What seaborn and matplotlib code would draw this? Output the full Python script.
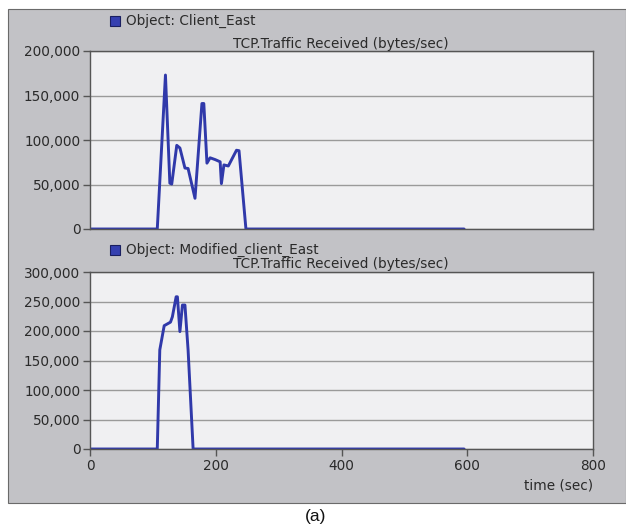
import matplotlib
matplotlib.use("Agg")
import matplotlib.pyplot as plt
from matplotlib.patches import Rectangle
import matplotlib.ticker as mticker
import seaborn as sns
import pandas as pd

# ── data ──────────────────────────────────────────────────────
t_east = [0, 107, 120, 127, 130, 138, 143, 151, 156, 167, 178, 181, 186,
          191, 199, 207, 209, 213, 220, 233, 237, 248, 595]
v_east = [0, 0, 173000, 51500, 50500, 94000, 91000, 68500, 68000, 34500,
          141000, 141000, 74000, 80000, 78000, 75500, 51000, 72000, 70800,
          88500, 88000, 0, 0]

t_mod = [0, 107, 111, 118, 128, 131, 137, 139, 143, 147, 151, 156, 164, 595]
v_mod = [0, 0, 168000, 209000, 215000, 224000, 258000, 258000, 199000,
         244000, 244000, 168000, 0, 0]

x_ticks = [0, 200, 400, 600, 800]
y_ticks_top = [0, 50000, 100000, 150000, 200000]
y_ticks_bot = [0, 50000, 100000, 150000, 200000, 250000, 300000]

obj_names = ["Object: Client_East", "Object: Modified_client_East"]
stat_title = "TCP.Traffic Received (bytes/sec)"

sns.set_theme(style="white")
plt.rcParams['font.family'] = ['DejaVu Sans']

line_col = '#3039aa'
panel_col = '#c2c2c6'
plot_bg = '#f0f0f2'
txt_col = '#2a2a2a'
fs = 9.8

W, H = 626, 529
fig = plt.figure(figsize=(W / 100, H / 100), dpi=100)
fig.patch.set_facecolor('white')

# gray panel behind both plots
fig.patches.append(Rectangle((8 / W, 1 - 503 / H), 618 / W, 494 / H,
                             transform=fig.transFigure, facecolor=panel_col,
                             edgecolor='#6a6a6a', linewidth=0.8, zorder=-10))

ax_top = fig.add_axes([90 / W, 1 - 229 / H, 503 / W, 178 / H])
ax_bot = fig.add_axes([90 / W, 1 - 449 / H, 503 / W, 177 / H])

df_east = pd.DataFrame({'time': t_east, 'value': v_east})
df_mod = pd.DataFrame({'time': t_mod, 'value': v_mod})

for ax, df, yt in [(ax_top, df_east, y_ticks_top), (ax_bot, df_mod, y_ticks_bot)]:
    ax.set_facecolor(plot_bg)
    sns.lineplot(data=df, x='time', y='value', ax=ax, color=line_col,
                 linewidth=2.1, sort=False, estimator=None)
    ax.set_xlim(0, 800)
    ax.set_ylim(yt[0], yt[-1])
    ax.set_yticks(yt)
    ax.yaxis.set_major_formatter(mticker.FuncFormatter(lambda v, p: f'{int(v):,}'))
    ax.grid(axis='y', color='#9a9a9a', linewidth=1.0)
    ax.grid(axis='x', visible=False)
    ax.set_axisbelow(True)
    ax.set_xlabel('')
    ax.set_ylabel('')
    for s in ax.spines.values():
        s.set_color('#555555')
        s.set_linewidth(1.0)
    ax.tick_params(axis='y', left=True, length=5, width=1, color='#555555',
                   labelsize=fs, labelcolor=txt_col, pad=2)

ax_top.set_xticks(x_ticks)
ax_top.tick_params(axis='x', bottom=False, labelbottom=False)
ax_bot.set_xticks(x_ticks)
ax_bot.tick_params(axis='x', bottom=True, length=5, width=1, color='#555555',
                   labelsize=fs, labelcolor=txt_col, pad=2)
ax_bot.set_xlabel('time (sec)', fontsize=fs, color=txt_col, loc='right',
                  labelpad=4)

# object legends and statistic titles
for name, y_leg, y_title in [(obj_names[0], 21, 44), (obj_names[1], 250, 264)]:
    fig.patches.append(Rectangle((110 / W, 1 - (y_leg + 4.5) / H), 10 / W, 9 / H,
                                 transform=fig.transFigure, facecolor='#3540b0',
                                 edgecolor='#1a1f60', linewidth=0.8, zorder=2))
    fig.text(126 / W, 1 - y_leg / H, name, fontsize=fs, color=txt_col,
             ha='left', va='center')
    fig.text(341 / W, 1 - y_title / H, stat_title, fontsize=fs, color=txt_col,
             ha='center', va='center')

fig.text(316 / W, 1 - 516 / H, '(a)', fontsize=12.5, color='#111111',
         ha='center', va='center', family='Liberation Sans')

fig.savefig('out.png', dpi=100)
